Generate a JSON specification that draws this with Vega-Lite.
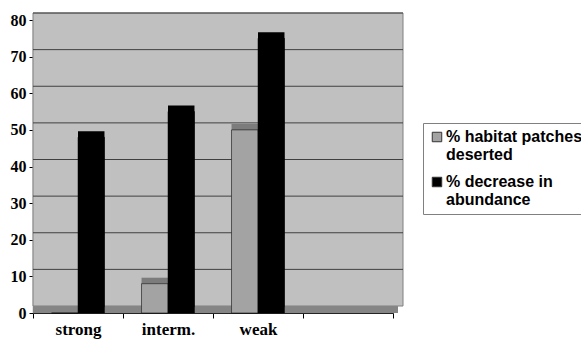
{
  "$schema": "https://vega.github.io/schema/vega-lite/v6.json",
  "width": 360,
  "height": 293,
  "autosize": "none",
  "padding": {"left": 33, "top": 20, "right": 188, "bottom": 29},
  "background": "white",
  "config": {
    "view": {"stroke": null},
    "axisY": {"tickCount": 8, "labelOverlap": false, "grid": false, "labelFont": "Liberation Serif", "labelFontWeight": "bold", "labelFontSize": 16, "labelColor": "black", "domainColor": "black", "tickColor": "black", "tickSize": 4, "labelPadding": 3, "title": null}
  },
  "datasets": {
    "bars": [
      {"group": "strong", "series": "% habitat patches deserted", "value": 0},
      {"group": "strong", "series": "% decrease in abundance", "value": 48},
      {"group": "interm.", "series": "% habitat patches deserted", "value": 8},
      {"group": "interm.", "series": "% decrease in abundance", "value": 55},
      {"group": "weak", "series": "% habitat patches deserted", "value": 50},
      {"group": "weak", "series": "% decrease in abundance", "value": 75}
    ],
    "grid": [{"g": 10}, {"g": 20}, {"g": 30}, {"g": 40}, {"g": 50}, {"g": 60}, {"g": 70}, {"g": 80}]
  },
  "layer": [
    {
      "data": {"values": [{}]},
      "mark": {"type": "rect", "fill": "#cbcbcb", "stroke": "#909090", "strokeWidth": 0.5},
      "encoding": {
        "y": {"datum": 0, "type": "quantitative", "scale": {"domain": [0, 80], "nice": false}, "title": null},
        "y2": {"datum": 80}
      }
    },
    {
      "data": {"values": [{}]},
      "mark": {"type": "rect", "fill": "#c0c0c0", "stroke": "#808080", "strokeWidth": 1, "xOffset": 10, "x2Offset": 10, "yOffset": -7, "y2Offset": -7},
      "encoding": {
        "y": {"datum": 0, "type": "quantitative", "title": null},
        "y2": {"datum": 80}
      }
    },
    {
      "data": {"name": "grid"},
      "mark": {"type": "rule", "color": "#404040", "strokeWidth": 1, "xOffset": 10, "x2Offset": 10, "yOffset": -7},
      "encoding": {"y": {"field": "g", "type": "quantitative", "title": null}}
    },
    {
      "data": {"values": [{}]},
      "mark": {"type": "rule", "color": "#858585", "strokeWidth": 7, "yOffset": -3.5, "xOffset": 5, "x2Offset": 5},
      "encoding": {"y": {"datum": 0, "type": "quantitative", "title": null}}
    },
    {
      "data": {"name": "bars"},
      "mark": {"type": "bar", "xOffset": 6, "x2Offset": 6, "yOffset": -6, "y2Offset": -6},
      "encoding": {
        "x": {"field": "group", "type": "nominal", "scale": {"domain": ["strong", "interm.", "weak", ""], "paddingInner": 0, "paddingOuter": 0}},
        "xOffset": {"field": "series", "type": "nominal", "scale": {"domain": ["% habitat patches deserted", "% decrease in abundance"], "paddingOuter": 0.7, "paddingInner": 0}},
        "y": {"field": "value", "type": "quantitative", "title": null},
        "color": {"field": "series", "type": "nominal", "scale": {"domain": ["% habitat patches deserted", "% decrease in abundance"], "range": ["#7c7c7c", "#000000"]}, "legend": null}
      }
    },
    {
      "data": {"name": "bars"},
      "mark": {"type": "bar", "stroke": "#000000", "strokeWidth": 0.5},
      "encoding": {
        "x": {"field": "group", "type": "nominal", "scale": {"domain": ["strong", "interm.", "weak", ""], "paddingInner": 0, "paddingOuter": 0}, "axis": {"title": null, "labelAngle": 0, "labelAlign": "center", "labelFont": "Liberation Serif", "labelFontWeight": "bold", "labelFontSize": 17, "labelColor": "black", "labelPadding": 11, "domainColor": "black", "tickColor": "black", "tickBand": "extent", "tickSize": 5}},
        "xOffset": {"field": "series", "type": "nominal", "scale": {"domain": ["% habitat patches deserted", "% decrease in abundance"], "paddingOuter": 0.7, "paddingInner": 0}},
        "y": {"field": "value", "type": "quantitative", "title": null},
        "color": {"field": "series", "type": "nominal", "scale": {"domain": ["% habitat patches deserted", "% decrease in abundance"], "range": ["#a3a3a3", "#000000"]},
          "legend": {"title": null, "orient": "none", "legendX": 390, "legendY": 103, "fillColor": "white", "strokeColor": "#808080", "padding": 6, "symbolType": "square", "symbolSize": 90, "symbolStrokeColor": "#333333", "symbolStrokeWidth": 1, "labelFont": "Liberation Sans", "labelFontWeight": "bold", "labelFontSize": 16, "labelColor": "black", "labelLimit": 0, "labelOffset": 1, "rowPadding": 11,
            "labelExpr": "datum.label == '% habitat patches deserted' ? ['% habitat patches', 'deserted'] : ['% decrease in', 'abundance']"}}
      }
    }
  ],
  "resolve": {"scale": {"color": "independent"}}
}
